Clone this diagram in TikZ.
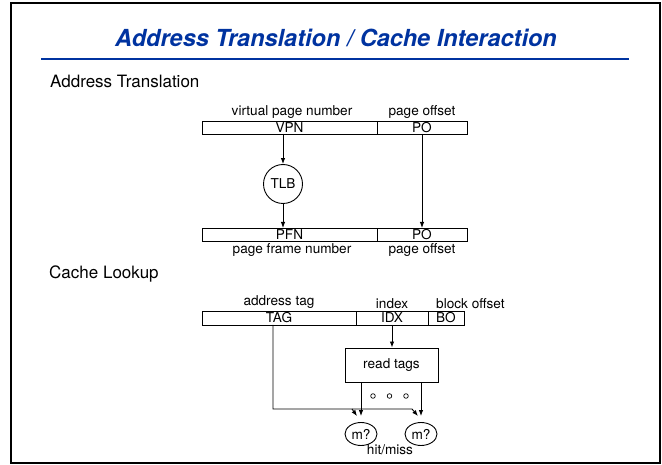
\documentclass[tikz,border=0pt]{standalone}
\usepackage{fontspec}
\setmainfont{TeX Gyre Heros}
\usetikzlibrary{positioning, arrows.meta, shapes.geometric}
\definecolor{titleblue}{RGB}{0,51,160}

\begin{document}
\begin{tikzpicture}[x=1pt, y=-1pt,
	field/.style={draw, line width=0.9pt, inner sep=0pt, outer sep=0pt, minimum height=13pt, font=\fontsize{13.6}{14}\selectfont},
	lbl/.style={inner sep=1.5pt, font=\fontsize{13.6}{14}\selectfont},
	heading/.style={anchor=base west, inner sep=0pt, font=\fontsize{17}{20}\selectfont},
	arr/.style={-{Latex[length=6pt, width=4.5pt]}, line width=0.9pt}]
	\useasboundingbox (0,0) rectangle (662,465);
	\draw[line width=2pt] (11,3) rectangle (659.5,463);
	\node[anchor=base, inner sep=0pt, titleblue, font=\fontsize{23.5}{28}\selectfont\bfseries\itshape] (title) at (336,47) {Address Translation / Cache Interaction};
	\draw[titleblue, line width=2.5pt] (41,59) -- (629,59);
	\node[heading] (hdtrans) at (50,88) {Address Translation};
	% virtual address
	\node[field, minimum width=175pt] (vpn) at (289.5,127.5) {VPN};
	\node[field, minimum width=90pt, right=0pt of vpn] (vpo) {PO};
	\node[lbl, above=1pt of vpn, xshift=2.5pt] (vpnlbl) {virtual page number};
	\node[lbl, above=1pt of vpo] (vpolbl) {page offset};
	\node[draw, circle, line width=0.9pt, minimum size=39pt, inner sep=0pt, font=\fontsize{13.6}{14}\selectfont] (tlb) at (283,184) {TLB};
	% physical address
	\node[field, minimum width=175pt] (pfn) at (289.5,234.5) {PFN};
	\node[field, minimum width=90pt, right=0pt of pfn] (ppo) {PO};
	\node[lbl, below=1pt of pfn, xshift=2.5pt] (pfnlbl) {page frame number};
	\node[lbl, below=1pt of ppo] (ppolbl) {page offset};
	\draw[arr] (vpn.south -| tlb) -- (tlb);
	\draw[arr] (tlb) -- (tlb |- pfn.north);
	\draw[arr] (vpo) -- (ppo);
	\node[heading] (hdcache) at (49,279) {Cache Lookup};
	% cache address
	\node[field, minimum width=154pt, minimum height=14pt] (tag) at (279,318) {TAG};
	\node[field, minimum width=72pt, minimum height=14pt, right=0pt of tag] (idx) {IDX};
	\node[field, minimum width=36pt, minimum height=14pt, right=0pt of idx] (bo) {BO};
	\node[lbl, above=1pt of tag] (taglbl) {address tag};
	\node[lbl, above=1pt of idx] (idxlbl) {index};
	\node[lbl, anchor=south west] (bolbl) at ([xshift=6.5pt, yshift=1pt]bo.north west) {block offset};
	\node[draw, line width=0.9pt, minimum width=93pt, minimum height=34pt, font=\fontsize{13.6}{14}\selectfont] (rtags) at (391.5,365) {read tags};
	\draw[arr] (idx.south) -- (idx.south |- rtags.north);
	\foreach \x in {373,389.5,406}
		\draw[line width=0.7pt] (\x,396) circle (2.3pt);
	\node[draw, ellipse, line width=0.9pt, minimum width=32pt, minimum height=23pt, inner sep=0pt, font=\fontsize{13.6}{14}\selectfont] (m1) at (361,434) {m?};
	\node[draw, ellipse, line width=0.9pt, minimum width=32pt, minimum height=23pt, inner sep=0pt, font=\fontsize{13.6}{14}\selectfont] (m2) at (421,434) {m?};
	\node[lbl] (hitmiss) at (390,450) {hit/miss};
	\draw[arr] (rtags.south -| m1) -- ([yshift=6pt]m1.north);
	\draw[arr] (rtags.south -| m2) -- ([yshift=6pt]m2.north);
	% tag compare
	\coordinate (bend) at (273,409);
	\coordinate (split1) at (352,409);
	\coordinate (split2) at (412,409);
	\draw[arr] (tag.south -| bend) -- (bend) -- (split2) -- ([xshift=-3pt, yshift=6pt]m2.north);
	\draw[arr] (split1) -- ([xshift=-4pt, yshift=6pt]m1.north);
\end{tikzpicture}
\end{document}
